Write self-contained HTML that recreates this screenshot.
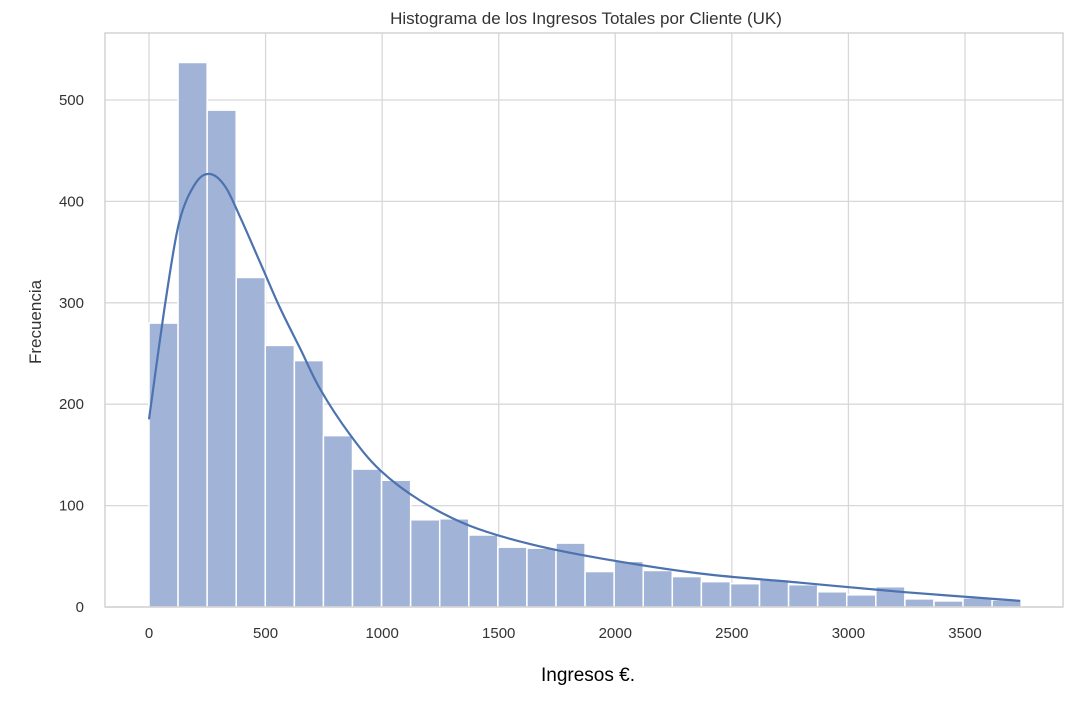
<!DOCTYPE html>
<html><head><meta charset="utf-8"><style>
html,body{margin:0;padding:0;background:#fff;}
svg text{font-family:"Liberation Sans",sans-serif;}
</style></head><body>
<svg id="chart" width="1072" height="698" xmlns="http://www.w3.org/2000/svg">
<rect width="1072" height="698" fill="#fff"/>
<text x="586" y="24" text-anchor="middle" font-size="17" fill="#333">Histograma de los Ingresos Totales por Cliente (UK)</text>
<text x="588" y="681" text-anchor="middle" font-size="19" fill="#000">Ingresos €.</text>
<text transform="translate(41,322) rotate(-90)" text-anchor="middle" font-size="17" fill="#333">Frecuencia</text>
<g id="grid"></g><g id="bars"></g><g id="kde"></g><g id="ticks"></g>
<rect x="105" y="33" width="958" height="574" fill="none" stroke="#ccc" stroke-width="1.3"/>
</svg>
<script>
const counts=[280,537,490,325,258,243,169,136,125,86,87,71,59,58,63,35,45,36,30,25,23,27,22,15,12,20,8,6,9,7];
const binStart=0, binEnd=3741;
const xTicks=[0,500,1000,1500,2000,2500,3000,3500];
const yTicks=[0,100,200,300,400,500];
const kdeX=[0,70,130,200,262,326,390,476,562,648,734,862,991,1163,1377,1635,1935,2364,2793,3222,3737];
const kdeY=[185,300,380,418,427,415,385,340,295,255,215,170,135,105,80,62,48,33,24,15,6];
const ns="http://www.w3.org/2000/svg";
const X=v=>149+v*0.23314, Y=v=>607-v*1.014;
function mk(t,a,p){const e=document.createElementNS(ns,t);for(const k in a)e.setAttribute(k,a[k]);document.getElementById(p).appendChild(e);return e;}
xTicks.forEach(t=>{
 const l=mk('line',{x1:X(t),x2:X(t),y1:33,y2:607,stroke:'#d8d8d8','stroke-width':1.3},'grid');
 
 
 const tx=mk('text',{x:X(t),y:638,'text-anchor':'middle','font-size':15,fill:'#333'},'ticks');tx.textContent=t;
 
 
});
yTicks.forEach(t=>{
 const l=mk('line',{x1:105,x2:1063,y1:Y(t),y2:Y(t),stroke:'#d8d8d8','stroke-width':1.3},'grid');
 
 
 const tx=mk('text',{x:84,y:Y(t)+5,'text-anchor':'end','font-size':15,fill:'#333'},'ticks');tx.textContent=t;
 
 
});
const bw=(binEnd-binStart)/counts.length;
counts.forEach((c,i)=>{
 const x0=X(binStart+i*bw),x1=X(binStart+(i+1)*bw);
 const r=mk('rect',{x:x0,y:Y(c),width:x1-x0,height:Y(0)-Y(c),fill:'#a1b4d7',stroke:'#fff','stroke-width':1.5},'bars');
 
 
});
const pts=kdeX.map((v,i)=>[X(v),Y(kdeY[i])]);
let d='M'+pts[0][0].toFixed(1)+','+pts[0][1].toFixed(1);
for(let i=0;i<pts.length-1;i++){
 const p0=pts[Math.max(0,i-1)],p1=pts[i],p2=pts[i+1],p3=pts[Math.min(pts.length-1,i+2)];
 const c1=[p1[0]+(p2[0]-p0[0])/6,p1[1]+(p2[1]-p0[1])/6];
 const c2=[p2[0]-(p3[0]-p1[0])/6,p2[1]-(p3[1]-p1[1])/6];
 d+='C'+c1.map(n=>n.toFixed(1)).join(',')+' '+c2.map(n=>n.toFixed(1)).join(',')+' '+p2.map(n=>n.toFixed(1)).join(',');
}
const p=mk('path',{d:d,fill:'none',stroke:'#4c72b0','stroke-width':2.2,'stroke-linejoin':'round'},'kde');


</script>
</body></html>
